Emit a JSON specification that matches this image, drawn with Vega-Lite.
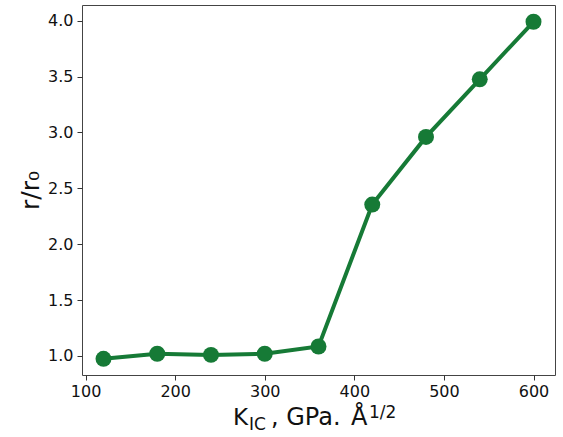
{
  "$schema": "https://vega.github.io/schema/vega-lite/v6.json",
  "autosize": {"type": "none"},
  "width": 473,
  "height": 370,
  "padding": {"left": 82, "top": 5, "right": 8, "bottom": 62},
  "background": "white",
  "config": {
    "view": {"stroke": "#444444", "strokeWidth": 1},
    "axis": {
      "grid": false,
      "domain": false,
      "tickColor": "#333333",
      "tickSize": 5,
      "labelFont": "DejaVu Sans",
      "labelFontSize": 16,
      "labelColor": "#111111",
      "titleFont": "DejaVu Sans",
      "titleFontWeight": "normal",
      "titleColor": "#111111"
    }
  },
  "data": {
    "values": [
      {"k": 120, "r": 0.975},
      {"k": 180, "r": 1.02},
      {"k": 240, "r": 1.01},
      {"k": 300, "r": 1.02},
      {"k": 360, "r": 1.085},
      {"k": 420, "r": 2.355},
      {"k": 480, "r": 2.96},
      {"k": 540, "r": 3.475},
      {"k": 600, "r": 3.99}
    ]
  },
  "layer": [
    {
      "mark": {"type": "line", "color": "#167a36", "strokeWidth": 4},
      "encoding": {
        "x": {"field": "k", "type": "quantitative",
              "scale": {"domain": [96, 624], "nice": false, "zero": false},
              "axis": {"values": [100, 200, 300, 400, 500, 600], "title": null, "labelPadding": 3}},
        "y": {"field": "r", "type": "quantitative",
              "scale": {"domain": [0.83, 4.14], "nice": false, "zero": false},
              "axis": {"values": [1.0, 1.5, 2.0, 2.5, 3.0, 3.5, 4.0], "format": ".1f",
                       "title": "r/r₀", "titleFontSize": 25, "titlePadding": 4, "labelPadding": 4}}
      }
    },
    {
      "mark": {"type": "point", "filled": true, "opacity": 1, "color": "#167a36", "size": 255},
      "encoding": {
        "x": {"field": "k", "type": "quantitative"},
        "y": {"field": "r", "type": "quantitative"}
      }
    },
    {
      "data": {"values": [{}]},
      "mark": {"type": "text", "text": "K", "align": "left", "baseline": "alphabetic", "font": "DejaVu Sans", "fontSize": 23, "color": "#111111"},
      "encoding": {"x": {"value": 151}, "y": {"value": 420}}
    },
    {
      "data": {"values": [{}]},
      "mark": {"type": "text", "text": "IC", "align": "left", "baseline": "alphabetic", "font": "DejaVu Sans", "fontSize": 17, "color": "#111111"},
      "encoding": {"x": {"value": 167}, "y": {"value": 425}}
    },
    {
      "data": {"values": [{}]},
      "mark": {"type": "text", "text": ", GPa.", "align": "left", "baseline": "alphabetic", "font": "DejaVu Sans", "fontSize": 24, "color": "#111111"},
      "encoding": {"x": {"value": 189}, "y": {"value": 420}}
    },
    {
      "data": {"values": [{}]},
      "mark": {"type": "text", "text": "Å", "align": "left", "baseline": "alphabetic", "font": "DejaVu Sans", "fontSize": 24, "color": "#111111"},
      "encoding": {"x": {"value": 269}, "y": {"value": 420}}
    },
    {
      "data": {"values": [{}]},
      "mark": {"type": "text", "text": "1/2", "align": "left", "baseline": "alphabetic", "font": "DejaVu Sans", "fontSize": 17, "color": "#111111"},
      "encoding": {"x": {"value": 287}, "y": {"value": 413}}
    }
  ]
}
